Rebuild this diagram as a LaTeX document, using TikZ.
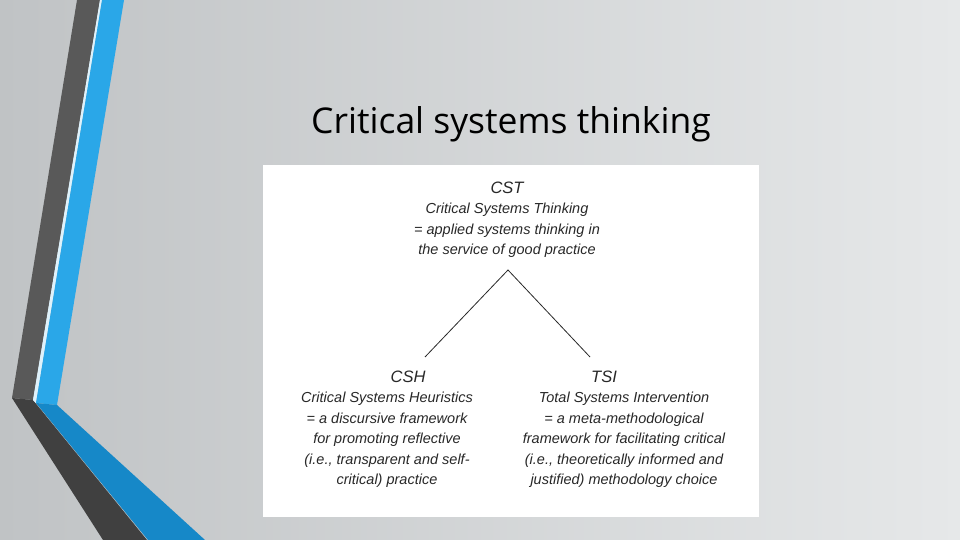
\documentclass[tikz,border=0pt]{standalone}
\usepackage{fontspec}
\setmainfont{Liberation Sans}
\newfontfamily\titlefont{Open Sans}
\definecolor{bgl}{RGB}{192,195,197}
\definecolor{bgr}{RGB}{230,232,233}
\definecolor{dk1}{RGB}{89,89,89}
\definecolor{dk2}{RGB}{64,64,64}
\definecolor{bl1}{RGB}{42,167,232}
\definecolor{bl2}{RGB}{22,136,200}
\definecolor{txt}{RGB}{40,40,40}
\begin{document}
\begin{tikzpicture}[x=1pt,y=-1pt,
  lbl/.style={font=\itshape\fontsize{14.5}{20.5}\selectfont, text=txt, align=center, inner sep=0},
  hd/.style={font=\itshape\fontsize{16.5}{18}\selectfont, text=txt, inner sep=0}]
\useasboundingbox (0,0) rectangle (960,540);
\shade[left color=bgl, right color=bgr] (0,0) rectangle (960,540);
\fill[dk1] (77,0) -- (100,0) -- (33,400) -- (12,398) -- cycle;
\fill[dk2] (12,398) -- (33,400) -- (147,540) -- (103,540) -- cycle;
\fill[white!85!bl1] (100,0) -- (102,0) -- (36,403) -- (33,400) -- cycle;
\fill[bl1] (102,0) -- (124,0) -- (57,405) -- (36,403) -- cycle;
\fill[bl2] (36,403) -- (57,405) -- (205,540) -- (148,540) -- cycle;
\node[font=\titlefont\fontsize{35.5}{40}\selectfont, text=black] (title) at (511,124) {Critical systems thinking};
\fill[white] (263,165) rectangle (759,517);
\node[hd] (cst) at (507,188) {CST};
\node[lbl, anchor=north] (cstt) at (507,203) {Critical Systems Thinking\\= applied systems thinking in\\the service of good practice};
\coordinate (apex) at (508,270);
\node[hd] (csh) at (408,377) {CSH};
\node[hd] (tsi) at (604,377) {TSI};
\draw[txt, thick] (425,357) -- (apex) -- (590,357);
\node[lbl, anchor=north] (csht) at (387,392) {Critical Systems Heuristics\\= a discursive framework\\for promoting reflective\\(i.e., transparent and self-\\critical) practice};
\node[lbl, anchor=north] (tsit) at (624,392) {Total Systems Intervention\\= a meta-methodological\\framework for facilitating critical\\(i.e., theoretically informed and\\justified) methodology choice};
\end{tikzpicture}
\end{document}
